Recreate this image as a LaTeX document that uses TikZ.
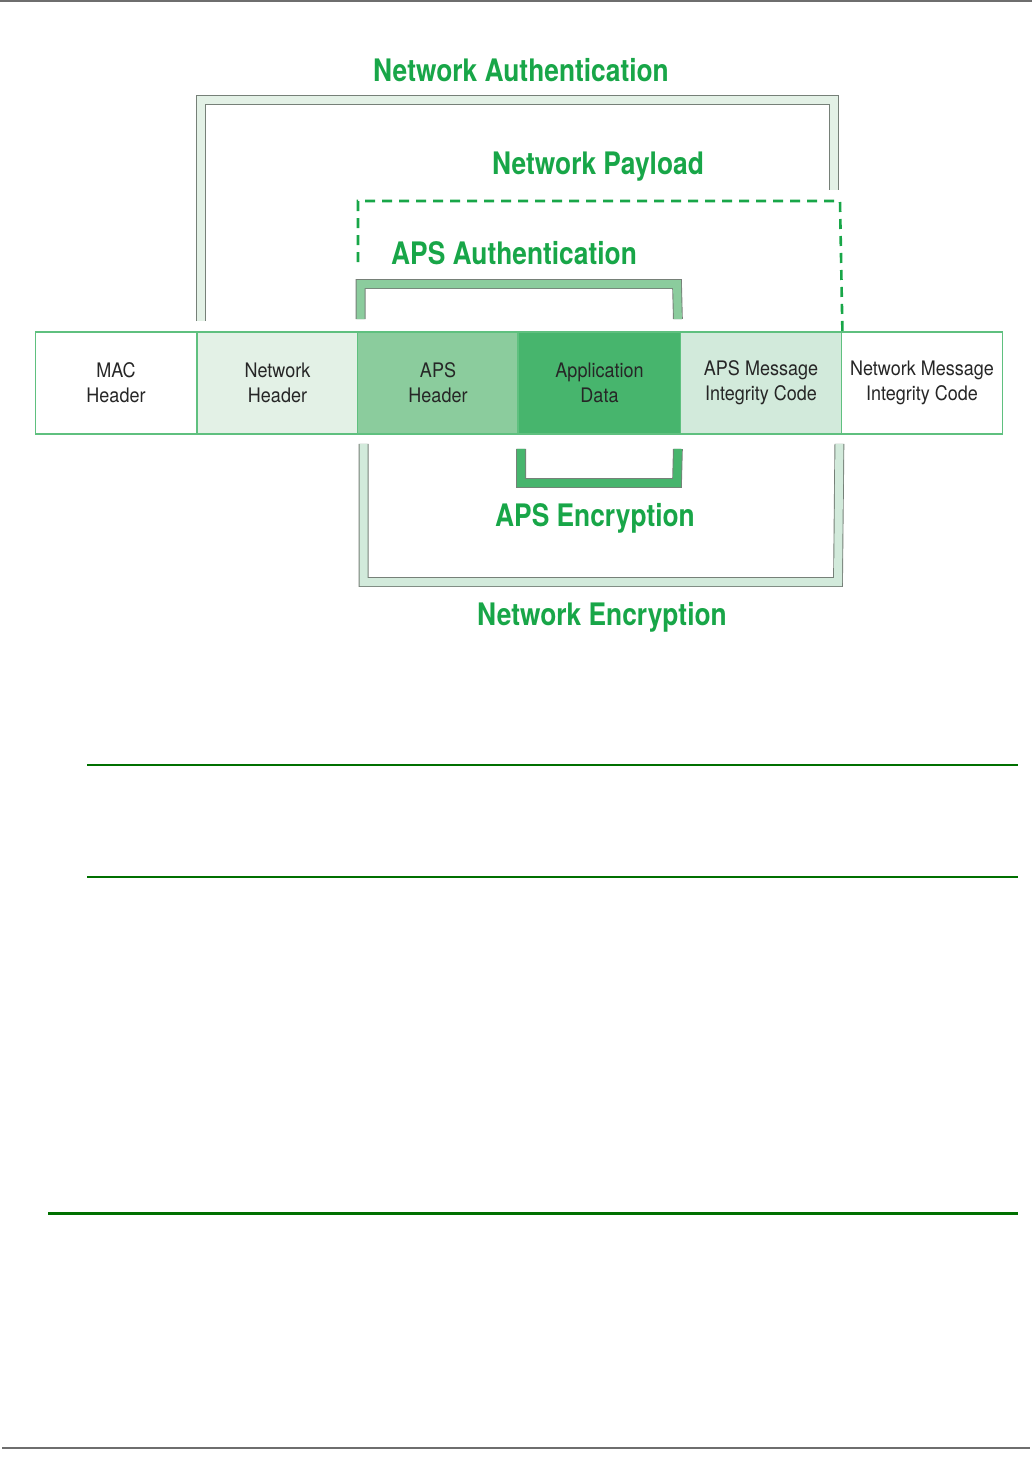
\documentclass[tikz,border=0pt]{standalone}
\usepackage{fontspec}
\usepackage{tikz}
\newfontfamily\labelfont[FakeStretch=0.85]{TeX Gyre Heros}
\newfontfamily\cellfont[FakeStretch=0.9]{TeX Gyre Heros}
\definecolor{cellline}{RGB}{95,192,127}
\definecolor{nwkfill}{RGB}{227,241,230}
\definecolor{apshdrfill}{RGB}{139,204,157}
\definecolor{appfill}{RGB}{71,181,109}
\definecolor{micfill}{RGB}{210,234,219}
\definecolor{labelgreen}{RGB}{24,166,72}
\definecolor{rulegreen}{RGB}{0,112,0}
\definecolor{bandgray}{RGB}{118,128,120}
\definecolor{pagegray}{RGB}{110,110,110}

\begin{document}
\begin{tikzpicture}[x=1pt,y=-1pt,
    cell/.style={draw=cellline,line width=1.8pt,minimum width=161pt,minimum height=102pt,
                 inner sep=0pt,align=center,font=\cellfont\fontsize{20}{25}\selectfont,text=black!85},
    band/.style={draw=bandgray,line width=0.9pt,double distance=8pt,line cap=butt},
    tag/.style={font=\labelfont\bfseries\fontsize{31}{36}\selectfont,text=labelgreen}]
    \useasboundingbox (0,0) rectangle (1032,1459);

    % page rules
    \draw[pagegray,line width=2pt] (0,1) -- (1032,1);
    \draw[pagegray,line width=1.5pt] (2,1448) -- (1030,1448);
    \draw[rulegreen,line width=2.2pt] (87,765) -- (1018,765);
    \draw[rulegreen,line width=2.2pt] (87,877) -- (1018,877);
    \draw[rulegreen,line width=3pt] (48,1213) -- (1018,1213);

    % frame fields
    \node[cell] (mac)    at (116,383)   {MAC\\Header};
    \node[cell,fill=nwkfill] (nwk)    at (277.5,383) {Network\\Header};
    \node[cell,fill=apshdrfill] (apshdr) at (438,383) {APS\\Header};
    \node[cell,fill=appfill,minimum width=163pt] (app) at (599.5,383) {Application\\Data};
    \node[cell,fill=micfill] (apsmic) at (761,383) {APS Message\\Integrity Code};
    \node[cell] (nwkmic) at (922,383) {Network Message\\Integrity Code};

    % brackets above
    \draw[band,double=nwkfill] ([shift={(5,-10)}]nwk.north west) |- (834,100) -- (834,190);
    \draw[band,double=apshdrfill] ([shift={(4,-12)}]apshdr.north west) |- (677,284) -- ([shift={(-4,-12)}]app.north east);
    \draw[labelgreen,line width=2.6pt,dash pattern=on 10pt off 7pt]
        (358,262) |- (840,201) -- (apsmic.north east);

    % brackets below
    \draw[band,double=appfill] ([shift={(4,14)}]app.south west) |- (677,483) -- ([shift={(-4,14)}]app.south east);
    \draw[band,double=micfill] ([shift={(7,9)}]apshdr.south west) |- (838,582) -- ([shift={(-3,9)}]apsmic.south east);

    % labels
    \node[tag] (netauth) at (521,70)  {Network Authentication};
    \node[tag] (netpay)  at (598,167) {Network Payload};
    \node[tag] (apsauth) at (514,253) {APS Authentication};
    \node[tag] (apsenc)  at (595,518) {APS Encryption};
    \node[tag] (netenc)  at (602,617) {Network Encryption};
\end{tikzpicture}
\end{document}
